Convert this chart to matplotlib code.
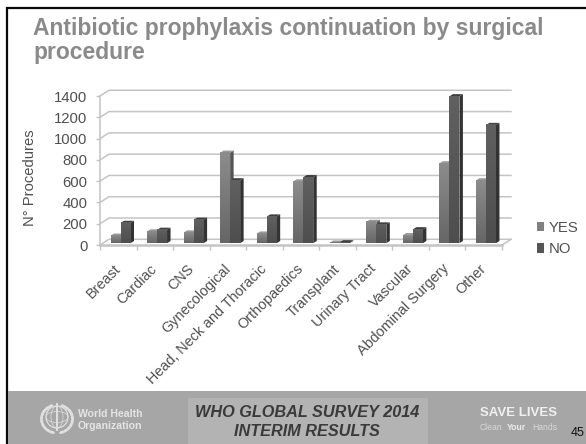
import numpy as np
import matplotlib
matplotlib.use("Agg")
import matplotlib.pyplot as plt
from matplotlib.patches import Rectangle, Ellipse, Polygon, Patch

plt.rcParams['font.family'] = ['Liberation Sans', 'DejaVu Sans']

# Survey counts per surgical procedure
categories = ["Breast", "Cardiac", "CNS", "Gynecological", "Head, Neck and Thoracic",
              "Orthopaedics", "Transplant", "Urinary Tract", "Vascular",
              "Abdominal Surgery", "Other"]
yes_values = [70, 110, 100, 850, 90, 580, 5, 200, 75, 750, 590]
no_values = [190, 125, 220, 590, 250, 620, 8, 175, 130, 1380, 1110]
y_ticks = [0, 200, 400, 600, 800, 1000, 1200, 1400]

W, H = 586, 444
fig = plt.figure(figsize=(W / 100, H / 100), dpi=100, facecolor="white")

# Slide furniture lives on a full-figure pixel canvas
bg = fig.add_axes([0, 0, 1, 1], zorder=0)
bg.set_xlim(0, W)
bg.set_ylim(H, 0)
bg.axis("off")
bg.add_patch(Rectangle((6.5, 8.5), W, H, fc="white", ec="#0a0a0a", lw=1.6))
bg.add_patch(Rectangle((7.5, 391), W, H - 391, fc="#a6a6a6", ec="none"))
bg.add_patch(Rectangle((188, 398), 240, 46, fc="#b3b3b3", ec="none"))

bg.text(33, 28, "Antibiotic prophylaxis continuation by surgical", fontsize=16.5,
        fontweight="bold", color="#8a8a8a", va="center", ha="left")
bg.text(33, 52, "procedure", fontsize=16.5, fontweight="bold", color="#8a8a8a",
        va="center", ha="left")

# Emblem next to the organisation name
logo = "#e0e0e0"
cx, cy = 57, 417
bg.add_patch(Ellipse((cx, cy), 22, 22, fc="none", ec=logo, lw=0.9))
bg.add_patch(Ellipse((cx, cy), 12, 22, fc="none", ec=logo, lw=0.5))
bg.add_patch(Ellipse((cx, cy), 22, 11, fc="none", ec=logo, lw=0.5))
bg.plot([cx, cx], [404, 430], color=logo, lw=1.4)
for side in (-1, 1):
    for t in np.linspace(-1.15, 1.25, 10):
        px = cx + side * 15.5 * np.cos(t)
        py = cy + 2 + 14 * np.sin(t)
        bg.add_patch(Ellipse((px, py), 3.0, 5.6, angle=np.degrees(t) * side,
                             fc=logo, ec="none"))

bg.text(78, 414, "World Health", fontsize=7.6, fontweight="bold", color="#e4e4e4", va="center")
bg.text(78, 426, "Organization", fontsize=7.6, fontweight="bold", color="#e4e4e4", va="center")
bg.text(307, 412, "WHO GLOBAL SURVEY 2014", fontsize=11.7, fontweight="bold",
        fontstyle="italic", color="#3a3a3a", ha="center", va="center")
bg.text(307, 431, "INTERIM RESULTS", fontsize=11.7, fontweight="bold",
        fontstyle="italic", color="#3a3a3a", ha="center", va="center")
bg.text(480, 413, "SAVE LIVES", fontsize=9.5, fontweight="bold", color="#f0f0f0", va="center")
bg.text(480, 427, "Clean", fontsize=6.2, color="#d8d8d8", va="center")
bg.text(506.5, 427, "Your", fontsize=6.2, fontweight="bold", color="#ececec", va="center")
bg.text(532, 427, "Hands", fontsize=6.2, color="#d8d8d8", va="center")
bg.text(571, 433, "45", fontsize=9, color="#111111", va="center")

# Chart axes: the plot frame is the front edge of the pseudo-3D box
x0, x1, y_base, y_top = 100, 502, 245, 96
ax = fig.add_axes([x0 / W, 1 - y_base / H, (x1 - x0) / W, (y_base - y_top) / H], zorder=1)
ax.patch.set_alpha(0)
n = len(categories)
ax.set_xlim(0, n)
ax.set_ylim(0, 1400)
for s in ax.spines.values():
    s.set_visible(False)

px_x = n / (x1 - x0)
px_y = 1400 / (y_base - y_top)
wall_dx, wall_dy = 9 * px_x, 5.7 * px_y
grid = "#c4c4c4"
text_col = "#505050"

# Back wall gridlines and their diagonals on the side wall
for v in y_ticks:
    ax.plot([0, wall_dx, n + wall_dx], [v, v + wall_dy, v + wall_dy], color=grid,
            lw=1.1, clip_on=False, zorder=1)
ax.plot([0, n], [0, 0], color=grid, lw=1.8, clip_on=False, zorder=1)
ax.plot([n, n + wall_dx], [0, wall_dy], color=grid, lw=1.1, clip_on=False, zorder=1)
ax.plot([0, 0], [0, 1400], color=grid, lw=1.1, clip_on=False, zorder=1)

ax.set_yticks(y_ticks)
ax.set_xticks(np.arange(n + 1), minor=False)
ax.set_xticklabels([])
ax.tick_params(axis="y", length=3, width=1, color=grid, labelsize=10.7, labelcolor=text_col, pad=6)
ax.tick_params(axis="x", length=3.6, width=1, color=grid)

# Angled category labels, right-anchored under each slot
for i, name in enumerate(categories):
    ax.annotate(name, xy=(i + 0.5, 0), xytext=(-3.5, -12), textcoords="offset points",
                rotation=45, rotation_mode="anchor", ha="right", va="top",
                fontsize=10.4, color=text_col, annotation_clip=False)

fig.text(30 / W, 1 - 178 / H, "N° Procedures", rotation=90, fontsize=10.6, color=text_col,
         ha="center", va="center")

# Bars with front, top and side faces
bar_w = 10 * px_x
gap_left = 10 * px_x
bar_dx, bar_dy = 3.5 * px_x, 2.2 * px_y
base_dx, base_dy = 0.5 * px_x, 1.8 * px_y


def draw_bar(left, value, top_col, bottom_col, cap_col, side_col, z):
    b = base_dy
    t = value + base_dy
    right = left + bar_w
    ax.add_patch(Polygon([(right, b), (right + bar_dx, b + bar_dy),
                          (right + bar_dx, t + bar_dy), (right, t)],
                         fc=side_col, ec="none", zorder=z, clip_on=False))
    ax.add_patch(Polygon([(left, t), (left + bar_dx, t + bar_dy),
                          (right + bar_dx, t + bar_dy), (right, t)],
                         fc=cap_col, ec="none", zorder=z, clip_on=False))
    shade = np.linspace(0, 1, 32).reshape(-1, 1)
    c0 = np.array(matplotlib.colors.to_rgb(top_col))
    c1 = np.array(matplotlib.colors.to_rgb(bottom_col))
    ax.imshow(c0 + (c1 - c0) * shade[..., None], extent=(left, right, b, t), aspect="auto",
              origin="upper", zorder=z, clip_on=False, interpolation="bilinear")


for i in range(n):
    left = i + gap_left + base_dx
    draw_bar(left, yes_values[i], "#8c8c8c", "#666666", "#9a9a9a", "#555555", 3)
    draw_bar(left + bar_w, no_values[i], "#606060", "#4e4e4e", "#3e3e3e", "#333333", 4)

ax.set_xlim(0, n)
ax.set_ylim(0, 1400)

handles = [Patch(fc="#808080", label="YES"), Patch(fc="#555555", label="NO")]
fig.legend(handles=handles, loc="center left", bbox_to_anchor=(537 / W, 1 - 238.5 / H),
           frameon=False, fontsize=10.7, handlelength=0.5, handleheight=0.6,
           handletextpad=0.3, labelspacing=0.5, labelcolor=text_col, borderpad=0, borderaxespad=0)

fig.savefig("out.png", dpi=100, facecolor="white")
